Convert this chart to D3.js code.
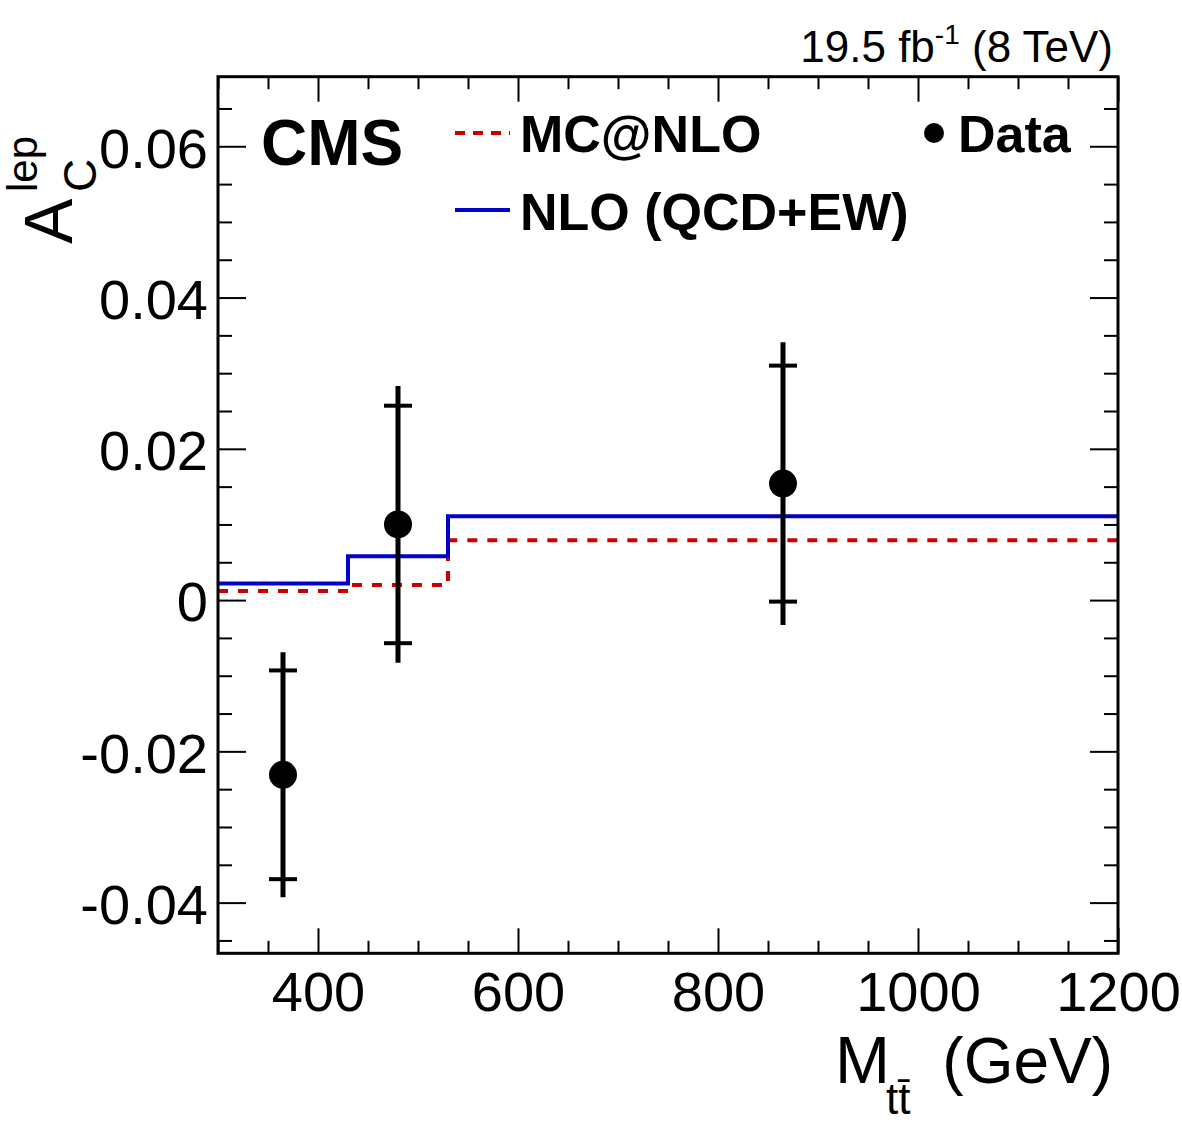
<!DOCTYPE html>
<html>
<head>
<meta charset="utf-8">
<script src="https://cdn.jsdelivr.net/npm/d3@7"></script>
<style>
  html, body { margin: 0; padding: 0; background: #fff; }
  svg text { font-family: "Liberation Sans", Arial, Helvetica, sans-serif; }
</style>
</head>
<body>
<svg id="chart" width="1182" height="1123"></svg>
<script>
// ---------------- data ----------------
const binEdges = [300, 430, 530, 1200];
const nloValues = [0.0022, 0.0058, 0.0111];      // NLO (QCD+EW)
const mcnloValues = [0.0012, 0.0020, 0.0079];    // MC@NLO
const dataMass = [365, 480, 865];
const dataValues = [-0.0231, 0.0100, 0.0154];
const statErr = [0.0138, 0.0157, 0.0156];
const totalErr = [0.0162, 0.0183, 0.0187];
const xMajorTicks = [400, 600, 800, 1000, 1200];
const yMajorTicks = [-0.04, -0.02, 0, 0.02, 0.04, 0.06];
const legendLabels = ["MC@NLO", "NLO (QCD+EW)", "Data"];

// ---------------- layout ----------------
const L = 218, R = 1118, T = 76.7, B = 953.3;
const svg = d3.select("#chart");
const x = d3.scaleLinear().domain([300, 1200]).range([L, R]);
const y = d3.scaleLinear().domain([-0.0467, 0.0692]).range([B, T]);

const xMinor = d3.range(300, 1201, 50).filter(v => !xMajorTicks.includes(v));
const yMinor = d3.range(-45, 70, 5).map(v => v / 1000).filter(v => !yMajorTicks.some(m => Math.abs(m - v) < 1e-9));

function styleAxis(g) {
  g.select(".domain").remove();
  g.selectAll(".tick line").attr("stroke", "#000").attr("stroke-width", 2);
}
const fmtY = d => d === 0 ? "0" : d.toFixed(2);

// bottom axis
svg.append("g").attr("transform", `translate(0,${B})`)
  .call(d3.axisBottom(x).tickValues(xMajorTicks).tickSizeInner(-25).tickSizeOuter(0).tickPadding(18).tickFormat(d3.format("d")))
  .call(styleAxis)
  .call(g => g.selectAll("text").attr("font-size", 56).attr("fill", "#000").attr("font-family", "Liberation Sans, Arial, sans-serif"));
svg.append("g").attr("transform", `translate(0,${B})`)
  .call(d3.axisBottom(x).tickValues(xMinor).tickSizeInner(-12.5).tickSizeOuter(0).tickFormat(""))
  .call(styleAxis);
// top axis
svg.append("g").attr("transform", `translate(0,${T})`)
  .call(d3.axisTop(x).tickValues(xMajorTicks).tickSizeInner(-25).tickSizeOuter(0).tickFormat(""))
  .call(styleAxis);
svg.append("g").attr("transform", `translate(0,${T})`)
  .call(d3.axisTop(x).tickValues(xMinor).tickSizeInner(-12.5).tickSizeOuter(0).tickFormat(""))
  .call(styleAxis);
// left axis
svg.append("g").attr("transform", `translate(${L},0)`)
  .call(d3.axisLeft(y).tickValues(yMajorTicks).tickSizeInner(-28).tickSizeOuter(0).tickPadding(10).tickFormat(fmtY))
  .call(styleAxis)
  .call(g => g.selectAll("text").attr("font-size", 56).attr("fill", "#000").attr("dy", "0.37em").attr("font-family", "Liberation Sans, Arial, sans-serif"));
svg.append("g").attr("transform", `translate(${L},0)`)
  .call(d3.axisLeft(y).tickValues(yMinor).tickSizeInner(-14).tickSizeOuter(0).tickFormat(""))
  .call(styleAxis);
// right axis
svg.append("g").attr("transform", `translate(${R},0)`)
  .call(d3.axisRight(y).tickValues(yMajorTicks).tickSizeInner(-28).tickSizeOuter(0).tickFormat(""))
  .call(styleAxis);
svg.append("g").attr("transform", `translate(${R},0)`)
  .call(d3.axisRight(y).tickValues(yMinor).tickSizeInner(-14).tickSizeOuter(0).tickFormat(""))
  .call(styleAxis);

// ---------------- histograms ----------------
function stepPoints(vals) {
  const pts = [];
  vals.forEach((v, i) => { pts.push([binEdges[i], v]); pts.push([binEdges[i + 1], v]); });
  return pts;
}
const line = d3.line().x(d => x(d[0])).y(d => y(d[1]));
svg.append("path").attr("d", line(stepPoints(mcnloValues)))
  .attr("fill", "none").attr("stroke", "#cc0000").attr("stroke-width", 4).attr("stroke-dasharray", "10,10");
svg.append("path").attr("d", line(stepPoints(nloValues)))
  .attr("fill", "none").attr("stroke", "#0000cc").attr("stroke-width", 4);

// ---------------- data points ----------------
const pts = dataMass.map((m, i) => ({ m, v: dataValues[i], s: statErr[i], t: totalErr[i] }));
const gp = svg.append("g");
gp.selectAll("line.err").data(pts).join("line")
  .attr("x1", d => x(d.m)).attr("x2", d => x(d.m))
  .attr("y1", d => y(d.v + d.t)).attr("y2", d => y(d.v - d.t))
  .attr("stroke", "#000").attr("stroke-width", 5);
[1, -1].forEach(sgn => {
  gp.selectAll(null).data(pts).join("line")
    .attr("x1", d => x(d.m) - 14).attr("x2", d => x(d.m) + 14)
    .attr("y1", d => y(d.v + sgn * d.s)).attr("y2", d => y(d.v + sgn * d.s))
    .attr("stroke", "#000").attr("stroke-width", 4);
});
gp.selectAll("circle").data(pts).join("circle")
  .attr("cx", d => x(d.m)).attr("cy", d => y(d.v)).attr("r", 14).attr("fill", "#000");

// ---------------- legend ----------------
svg.append("line").attr("x1", 455).attr("x2", 510).attr("y1", 133).attr("y2", 133)
  .attr("stroke", "#cc0000").attr("stroke-width", 4).attr("stroke-dasharray", "10,8");
svg.append("line").attr("x1", 455).attr("x2", 510).attr("y1", 210).attr("y2", 210)
  .attr("stroke", "#0000cc").attr("stroke-width", 4);
svg.append("circle").attr("cx", 934).attr("cy", 133).attr("r", 10).attr("fill", "#000");
const legPos = [[520, 152], [520, 230], [958, 152]];
legendLabels.forEach((t, i) => {
  svg.append("text").attr("x", legPos[i][0]).attr("y", legPos[i][1])
    .attr("font-size", 52).attr("font-weight", "bold").attr("fill", "#000").text(t);
});

// CMS
svg.append("text").attr("x", 261).attr("y", 165).attr("font-size", 64).attr("font-weight", "bold").text("CMS");

// lumi
const lumi = svg.append("text").attr("x", 1113).attr("y", 62).attr("text-anchor", "end").attr("font-size", 44);
lumi.append("tspan").text("19.5 fb");
lumi.append("tspan").attr("font-size", 28).attr("dy", -18).text("-1");
lumi.append("tspan").attr("dy", 18).text(" (8 TeV)");

// x title
svg.append("text").attr("x", 835).attr("y", 1083).attr("font-size", 66).text("M");
svg.append("text").attr("x", 886).attr("y", 1114).attr("font-size", 44).text("tt\u0304");
svg.append("text").attr("x", 1113).attr("y", 1083).attr("font-size", 64).attr("text-anchor", "end").text("(GeV)");

// y title
svg.append("text").attr("transform", "translate(72,244) rotate(-90)").attr("font-size", 68).text("A");
svg.append("text").attr("transform", "translate(96,192) rotate(-90)").attr("font-size", 46).text("C");
svg.append("text").attr("transform", "translate(37,192) rotate(-90)").attr("font-size", 42).text("lep");

// frame
svg.append("rect").attr("x", L).attr("y", T).attr("width", R - L).attr("height", B - T)
  .attr("fill", "none").attr("stroke", "#000").attr("stroke-width", 3);
</script>
</body>
</html>
